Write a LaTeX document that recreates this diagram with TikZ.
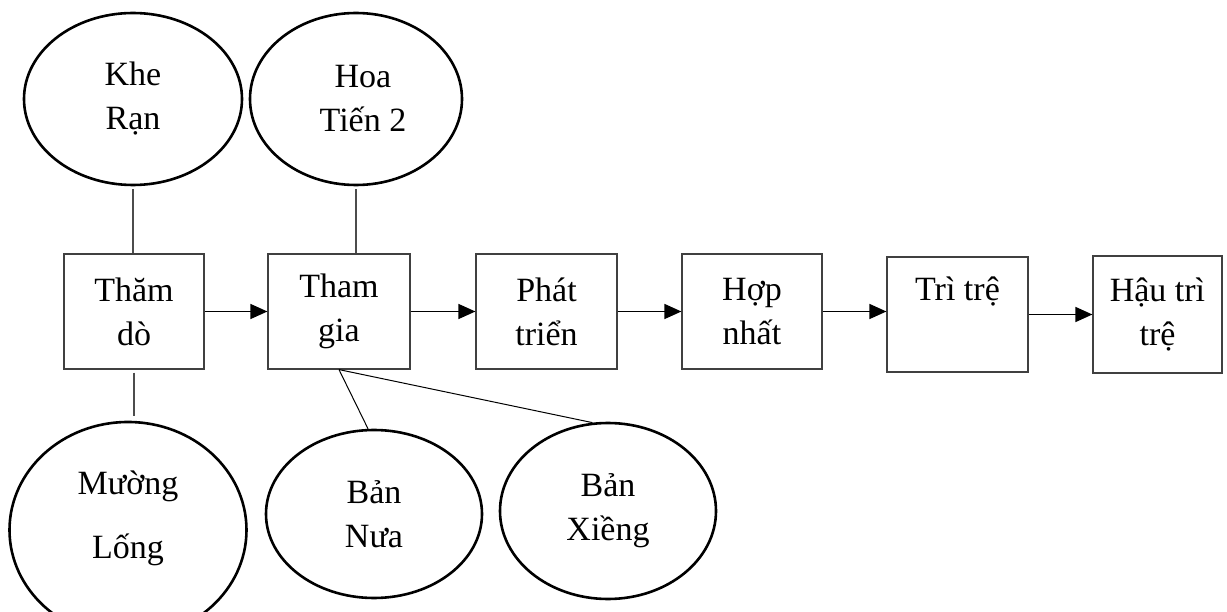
\documentclass[tikz,border=0pt]{standalone}
\usepackage{fontspec}
\setmainfont{Liberation Serif}
\usetikzlibrary{shapes.geometric,arrows.meta}
\begin{document}
\begin{tikzpicture}[x=1pt,y=-1pt,
  every node/.style={font=\fontsize{34}{44}\selectfont, align=center},
  oval/.style={ellipse, draw, line width=2.6pt, inner sep=0pt},
  stage/.style={rectangle, draw=black!75, line width=1.2pt, minimum width=140pt, minimum height=115pt, inner sep=0pt},
  link/.style={draw=black!70, line width=1.5pt},
  slim/.style={draw=black, line width=1pt},
  flow/.style={-{Triangle[length=17pt,width=15pt]}, line width=1.5pt}]
\useasboundingbox (0,0) rectangle (1227,612);

\node[oval, minimum width=218pt, minimum height=172pt] (khe) at (133,99) {Khe\\Rạn};
\node[oval, minimum width=212pt, minimum height=172pt] (hoa) at (356,99) {\hspace*{14pt}Hoa\\\hspace*{14pt}Tiến 2};

\node[stage] (thamdo) at (134,311.5) {Thăm\\dò};
\node[stage, minimum width=142pt] (thamgia) at (339,311.5) {Tham\\gia};
\node[stage, minimum width=141pt] (phat) at (546.5,311.5) {Phát\\triển};
\node[stage] (hop) at (752,311.5) {Hợp\\nhất};
\node[stage, minimum width=141pt] (tri) at (957.5,314.5) {Trì trệ\\\phantom{g}};
\node[stage, minimum width=129pt, minimum height=117pt] (hau) at (1157.5,314.5) {Hậu trì\\trệ};

\node[oval, minimum width=237pt, minimum height=216pt] (muong) at (128,530) {Mường\\[20pt]Lống\\[-20pt]\phantom{g}};
\node[oval, minimum width=216pt, minimum height=168pt] (bannua) at (374,514) {Bản\\Nưa};
\node[oval, minimum width=216pt, minimum height=176pt] (banxieng) at (608,511) {Bản\\Xiềng};

\draw[link] ([yshift=-3pt]khe.south) -- (khe.south |- thamdo.north);
\draw[link] ([yshift=-3pt]hoa.south) -- (hoa.south |- thamgia.north);
\draw[link] ([yshift=-3pt]thamdo.south) -- ([yshift=5pt]thamdo.south |- muong.north);
\draw[slim] (thamgia.south) -- (bannua.94);
\draw[slim] (thamgia.south) -- (banxieng.100);

\draw[flow] (thamdo.east) -- (thamgia.west);
\draw[flow] (thamgia.east) -- (phat.west);
\draw[flow] (phat.east) -- (hop.west);
\draw[flow] (hop.east) -- (hop.east -| tri.west);
\draw[flow] (tri.east) -- (hau.west);
\end{tikzpicture}
\end{document}
